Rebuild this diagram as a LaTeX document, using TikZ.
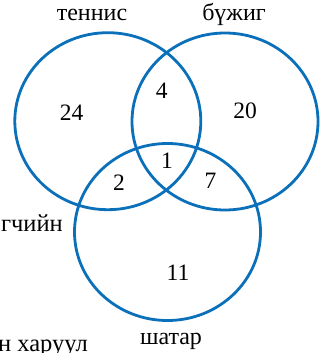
\documentclass[tikz,border=0pt]{standalone}
\usepackage{fontspec}
\setmainfont{Liberation Serif}
\usetikzlibrary{shapes.geometric}
\definecolor{vennblue}{RGB}{10,112,186}
\begin{document}
\begin{tikzpicture}[x=1pt,y=-1pt,
  setring/.style={draw=vennblue, line width=2.8pt, ellipse, inner sep=0pt,
    minimum width=186pt, minimum height=177pt},
  num/.style={anchor=base, inner sep=0pt, font=\fontsize{23.5}{27}\selectfont},
  lbl/.style={anchor=base, inner sep=0pt, font=\fontsize{24}{28}\selectfont},
  edgetxt/.style={anchor=base east, inner sep=0pt, font=\fontsize{24.5}{28}\selectfont}]
\useasboundingbox (0,0) rectangle (320,353);
\clip (0,0) rectangle (320,353);
\node[setring] (tennis) at (107.8,121.2) {};
\node[setring] (dance) at (225,121.5) {};
\node[setring] (chess) at (167.5,232) {};
\node[lbl] (ltennis) at (92,21) {теннис};
\node[lbl] (ldance) at (234,21) {бүжиг};
\node[lbl] (lchess) at (171,344) {шатар};
\node[edgetxt] (frag1) at (63,231) {гчийн};
\node[edgetxt] (frag2) at (88,351) {н харуул};
\node[num] (n24) at (71.5,120.5) {24};
\node[num] (n4) at (161.7,98) {4};
\node[num] (n20) at (245,118.5) {20};
\node[num] (n1) at (167,168.5) {1};
\node[num] (n2) at (119,190.5) {2};
\node[num] (n7) at (210.5,188.5) {7};
\node[num] (n11) at (178,280) {11};
\end{tikzpicture}
\end{document}
